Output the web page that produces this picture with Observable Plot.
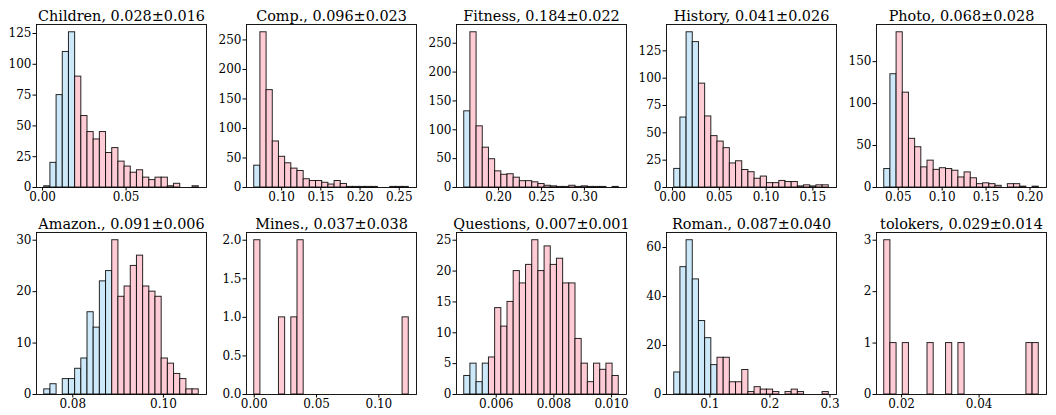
<!DOCTYPE html>
<html><head><meta charset="utf-8">
<script src="https://cdn.jsdelivr.net/npm/d3@7"></script>
<script src="https://cdn.jsdelivr.net/npm/@observablehq/plot@0.6"></script>
<style>
body{margin:0;background:#fff;}
#root{position:relative;width:1056px;height:415px;overflow:hidden;font-family:"DejaVu Serif";}
#root svg{position:absolute;overflow:visible;}
</style></head><body><div id="root"></div>
<script>
const names = ["Children","Comp.","Fitness","History","Photo","Amazon.","Mines.","Questions","Roman.","tolokers"];
const means = ["0.028","0.096","0.184","0.041","0.068","0.091","0.037","0.007","0.087","0.029"];
const stds  = ["0.016","0.023","0.022","0.026","0.028","0.006","0.038","0.001","0.040","0.014"];
const binLo = [0.001, 0.0651, 0.160, 0.0018, 0.034, 0.0737, 0.0, 0.00489, 0.0406, 0.01552];
const binHi = [0.0935, 0.2621, 0.340, 0.167, 0.210, 0.1078, 0.124, 0.01025, 0.298, 0.0554];
const blueBins = [5, 1, 1, 4, 2, 11, 0, 4, 7, 0];

const countsChildren  = [1,20,75,110,126,90,58,45,39,45,28,32,21,17,12,14,8,6,8,8,1,3,0,0,1];
const countsComp      = [37,263,165,78,52,41,32,28,14,11,11,8,5,11,6,1,1,1,1,1,0,0,1,1,1];
const countsFitness   = [132,269,106,69,49,28,22,23,17,11,11,9,6,3,2,1,1,3,1,2,1,1,1,0,1];
const countsHistory   = [17,64,142,133,95,65,47,42,36,22,24,16,14,8,10,4,4,6,5,5,1,2,1,2,2];
const countsPhoto     = [22,135,185,113,58,48,24,32,21,23,22,20,12,18,11,4,5,4,2,0,4,4,1,0,1];
const countsAmazon    = [1,2,0,3,3,5,7,16,13,22,24,30,19,21,25,27,21,20,19,7,6,4,3,1,1];
const countsMines     = [2,0,0,0,1,0,1,2,0,0,0,0,0,0,0,0,0,0,0,0,0,0,0,0,1];
const countsQuestions = [3,5,2,5,6,14,11,15,20,18,21,25,20,24,21,22,18,18,9,5,2,5,4,5,3];
const countsRoman     = [9,52,63,47,30,23,12,15,15,5,5,10,1,3,2,2,1,0,1,2,1,0,0,0,1];
const countsTolokers  = [3,1,0,1,0,0,0,1,0,0,1,0,1,0,0,0,0,0,0,0,0,0,0,1,1];
const allCounts = [countsChildren,countsComp,countsFitness,countsHistory,countsPhoto,
                   countsAmazon,countsMines,countsQuestions,countsRoman,countsTolokers];

const xTicks = [[0,0.05],[0.10,0.15,0.20,0.25],[0.20,0.25,0.30],[0,0.05,0.10,0.15],[0.05,0.10,0.15,0.20],
                [0.08,0.10],[0,0.05,0.10],[0.006,0.008,0.010],[0.1,0.2,0.3],[0.02,0.04]];
const xFmt = [".2f",".2f",".2f",".2f",".2f",".2f",".2f",".3f",".1f",".2f"];
const yTicks = [[0,25,50,75,100,125],[0,50,100,150,200,250],[0,50,100,150,200,250],[0,25,50,75,100,125],[0,50,100,150],
                [0,10,20,30],[0,0.5,1,1.5,2],[0,5,10,15,20,25],[0,20,40,60],[0,1,2,3]];
const yFmt = ["d","d","d","d","d","d",".1f","d","d","d"];

const BLUE = "#cde9f9", PINK = "#ffccd5";
const root = document.getElementById("root");
const FW = 170, ML = 40, MR = 12;

allCounts.forEach((counts, i) => {
  const row = Math.floor(i / 5), col = i % 5;
  const lo = binLo[i], hi = binHi[i], n = counts.length, w = (hi - lo) / n;
  const bins = counts.map((c, k) => ({x0: lo + k * w, x1: lo + (k + 1) * w, count: c, blue: k < blueBins[i]}));
  const pad = 0.05 * (hi - lo);
  const ymax = d3.max(counts) * 1.05;
  const MT = 24, FH = row === 0 ? 163 : 162, MB = row === 0 ? 28 : 21;
  const chart = Plot.plot({
    width: ML + FW + MR,
    height: MT + FH + MB,
    marginLeft: ML, marginRight: MR, marginTop: MT, marginBottom: MB,
    style: {background: "transparent", fontFamily: "DejaVu Serif", fontSize: "12px", color: "black", overflow: "visible"},
    x: {domain: [lo - pad, hi + pad], ticks: xTicks[i], tickFormat: d3.format(xFmt[i]), tickSize: 3.5, tickPadding: 1.5, label: null},
    y: {domain: [0, ymax], ticks: yTicks[i], tickFormat: d3.format(yFmt[i]), tickSize: 3.5, tickPadding: 1.5, label: null},
    marks: [
      Plot.rectY(bins.filter(d => d.count > 0), {x1: "x0", x2: "x1", y: "count",
        fill: d => d.blue ? BLUE : PINK, stroke: "black", strokeWidth: 1, strokeOpacity: 0.85}),
      Plot.frame({stroke: "black", strokeWidth: 0.9}),
      Plot.text([`${names[i]}, ${means[i]}±${stds[i]}`], {frameAnchor: "top", lineAnchor: "bottom", dy: -4,
        fontSize: 14.4, fontFamily: "DejaVu Serif", fill: "black"})
    ]
  });
  chart.style.left = (36 + 210 * col - ML) + "px";
  chart.style.top = (row === 0 ? 0 : 208) + "px";
  root.appendChild(chart);
});
</script></body></html>
